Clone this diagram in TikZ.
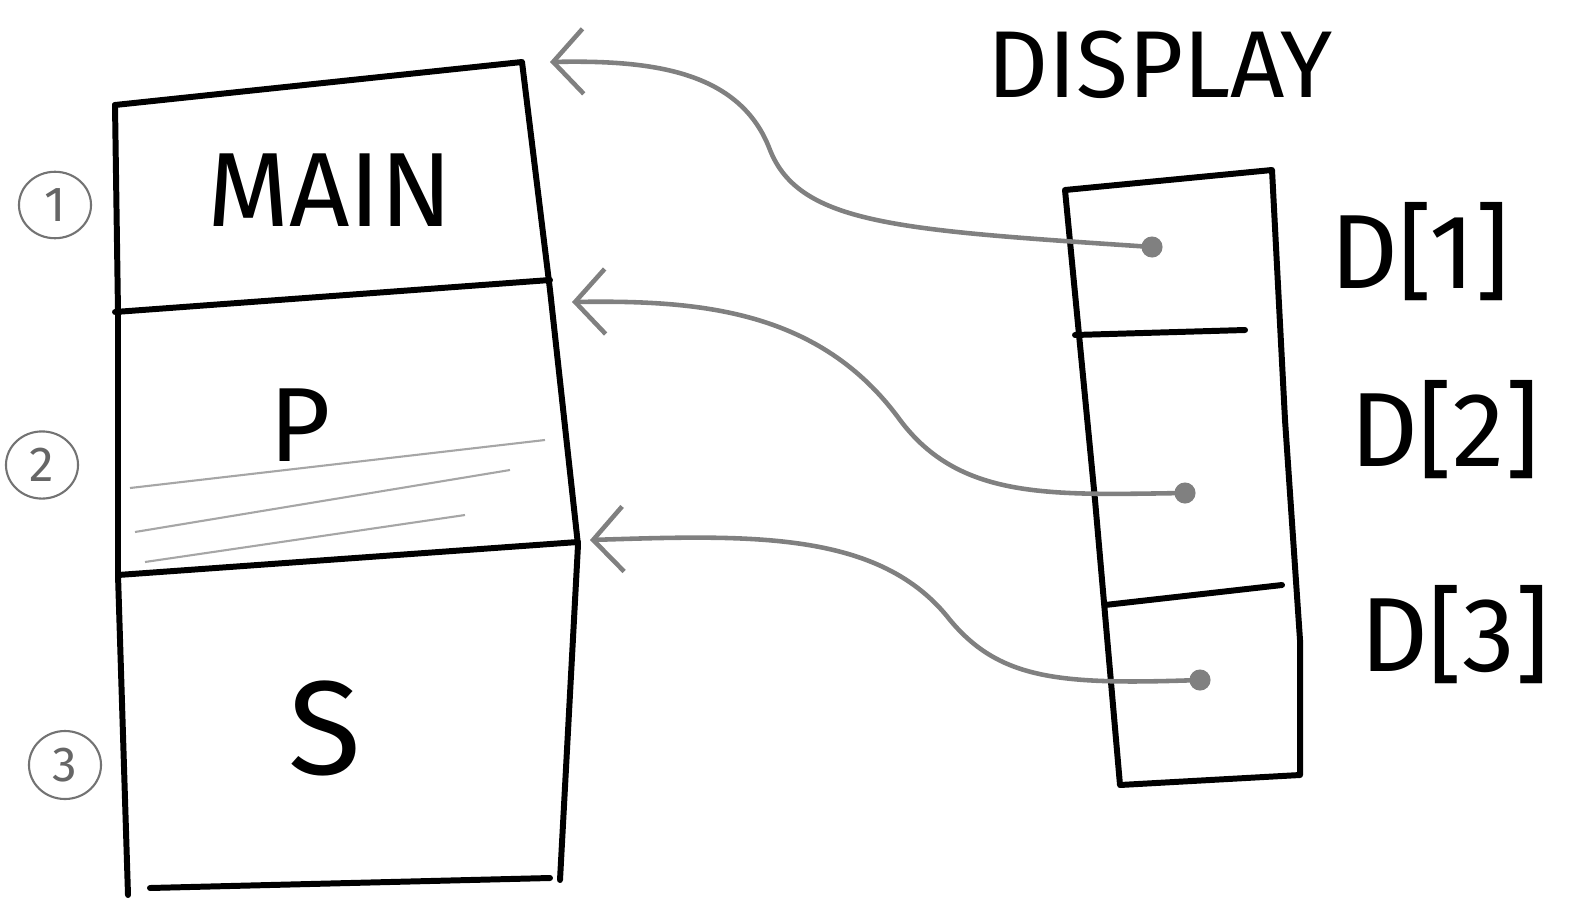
\documentclass[tikz,border=0pt]{standalone}
\usepackage{fontspec}
\setmainfont{Fira Sans}
\usetikzlibrary{arrows.meta,shapes.geometric}
\begin{document}
\begin{tikzpicture}[x=0.01cm,y=-0.01cm,
  ink/.style={line width=1.7pt,line join=round,line cap=round,black},
  link/.style={line width=1.3pt,draw=black!50,line cap=round,-{Straight Barb[length=3mm,width=6.5mm,line width=1.3pt]}},
  scratch/.style={line width=0.6pt,draw=black!35},
  lbl/.style={font=\fontsize{30}{34}\selectfont},
  num/.style={draw=black!55,line width=0.6pt,ellipse,inner sep=2pt,font=\fontsize{14}{16}\selectfont,text=black!60,minimum width=0.72cm,minimum height=0.58cm},
  dot/.style={circle,fill=black!50,inner sep=0pt,minimum size=6pt}]
\useasboundingbox (0,0) rectangle (1576,909);
% left stack
\draw[ink] (115,105) -- (522,62) -- (550,290) -- (578,545) -- (560,880);
\draw[ink] (115,105) -- (118,312) -- (118,575) -- (128,895);
\draw[ink] (115,312) -- (550,280);
\draw[ink] (118,575) -- (578,542);
\draw[ink] (150,888) -- (550,878);
% scratch lines in P
\draw[scratch] (130,488) -- (545,440);
\draw[scratch] (135,532) -- (510,470);
\draw[scratch] (145,562) -- (465,515);
\node[lbl] (main) at (330,190) {MAIN};
\node[lbl] (p) at (300,425) {P};
\node[lbl,font=\fontsize{38}{42}\selectfont] (s) at (325,728) {S};
\node[num] (n1) at (55,205) {1};
\node[num] (n2) at (42,465) {2};
\node[num] (n3) at (65,765) {3};
% display box
\node[lbl,font=\fontsize{27}{30}\selectfont] (disp) at (1160,65) {DISPLAY};
\draw[ink] (1065,190) -- (1272,170) -- (1285,420) -- (1300,640) -- (1300,775) -- (1120,785) -- (1095,500) -- cycle;
\draw[ink] (1075,335) -- (1245,330);
\draw[ink] (1105,605) -- (1282,585);
\node[lbl] (d1) at (1420,252) {D[1]};
\node[lbl] (d2) at (1445,430) {D[2]};
\node[lbl] (d3) at (1455,635) {D[3]};
% dots
\node[dot] (e1) at (1152,247) {};
\node[dot] (e2) at (1185,493) {};
\node[dot] (e3) at (1200,680) {};
\coordinate (t1) at (550,62);
\coordinate (t2) at (572,302);
\coordinate (t3) at (590,540);
\draw[link] (e1.center) .. controls (900,230) and (800,225) .. (770,150) .. controls (740,70) and (650,60) .. (t1);
\draw[link] (e2.center) .. controls (1050,495) and (960,500) .. (900,420) .. controls (820,310) and (700,300) .. (t2);
\draw[link] (e3.center) .. controls (1060,685) and (1000,680) .. (950,620) .. controls (880,530) and (750,535) .. (t3);
\end{tikzpicture}
\end{document}
